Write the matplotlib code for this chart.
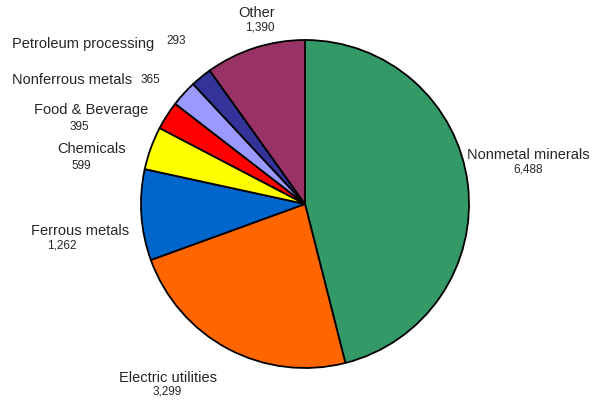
import matplotlib.pyplot as plt

# sectors, clockwise from the top
sectors = ['Nonmetal minerals', 'Electric utilities', 'Ferrous metals', 'Chemicals',
           'Food & Beverage', 'Nonferrous metals', 'Petroleum processing', 'Other']
values = [6488, 3299, 1262, 599, 395, 365, 293, 1390]
colours = ['#339966', '#ff6600', '#0066cc', '#ffff00', '#ff0000', '#9999ff', '#333399', '#993366']

plt.rcParams['font.family'] = ['Liberation Sans', 'DejaVu Sans']

fig = plt.figure(figsize=(5.92, 4.0), dpi=100)
ax = fig.add_axes([0, 0, 1, 1])

ax.pie(values, colors=colours, startangle=90, counterclock=False,
       center=(305, 196), radius=164, frame=True,
       wedgeprops=dict(edgecolor='black', linewidth=1.3))
ax.set_xlim(0, 592)
ax.set_ylim(0, 400)
ax.set_aspect('equal')
ax.axis('off')

# label placement (pixel coords from the top-left): name pos, value pos
label_pos = {
    'Nonmetal minerals': ((528, 155), (528, 170)),
    'Electric utilities': ((168, 378), (167, 392)),
    'Ferrous metals': ((80, 231), (62, 246)),
    'Chemicals': ((92, 149), (81, 166)),
    'Food & Beverage': ((91, 110), (79, 127)),
    'Nonferrous metals': ((72, 80), (150, 80)),
    'Petroleum processing': ((83, 44), (176, 41)),
    'Other': ((257, 13), (260, 27)),
}
txt = '#262626'
for name, v in zip(sectors, values):
    (nx, ny), (vx, vy) = label_pos[name]
    ax.text(nx, 400 - ny, name, fontsize=10.5, color=txt, ha='center', va='center')
    ax.text(vx, 400 - vy, f'{v:,}', fontsize=8.5, color=txt, ha='center', va='center')

fig.savefig('out.png', dpi=100)
